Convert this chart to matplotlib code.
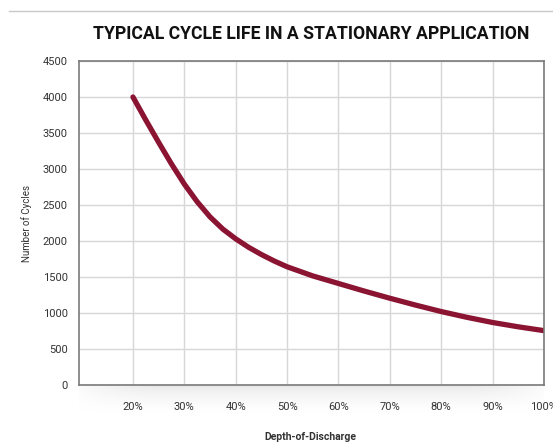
import numpy as np
import matplotlib
matplotlib.use("Agg")
import matplotlib.pyplot as plt
from matplotlib.lines import Line2D

# Data
depth_of_discharge = [0.200, 0.225, 0.250, 0.275, 0.300, 0.325, 0.350, 0.375,
                      0.400, 0.425, 0.450, 0.475, 0.500, 0.550, 0.600, 0.650,
                      0.700, 0.750, 0.800, 0.850, 0.900, 0.950, 1.000]
number_of_cycles = [4000, 3680, 3370, 3070, 2790, 2545, 2335, 2165,
                    2030, 1913, 1812, 1722, 1642, 1515, 1410, 1305,
                    1205, 1110, 1020, 940, 868, 808, 755]
x_ticks = [0.2, 0.3, 0.4, 0.5, 0.6, 0.7, 0.8, 0.9, 1.0]
x_tick_labels = ["20%", "30%", "40%", "50%", "60%", "70%", "80%", "90%", "100%"]
y_ticks = [0, 500, 1000, 1500, 2000, 2500, 3000, 3500, 4000, 4500]

narrow = 'Roboto'
plt.rcParams['font.family'] = [narrow, 'DejaVu Sans']

fig = plt.figure(figsize=(5.53, 4.44), dpi=100)
ax = fig.add_axes([79/553, 1-385/444, (544-79)/553, (385-61)/444])

# Shadow below the x-axis
sh = fig.add_axes([79/553, 1-415/444, (544-79)/553, 30/444])
grad = np.linspace(1, 0, 60)[:, None] ** 1.6
xs = np.linspace(-1, 1, 200)[None, :]
horiz = np.clip(1.25 - np.abs(xs) ** 4, 0, 1)
sh.imshow(grad * horiz * 0.18, cmap='Greys', vmin=0, vmax=1, aspect='auto',
          extent=[0, 1, 0, 1], interpolation='bilinear')
sh.set_axis_off()
sh.set_zorder(-1)

ax.plot(depth_of_discharge, number_of_cycles, color='#8a1432', lw=3.8,
        solid_capstyle='round', solid_joinstyle='round', zorder=3)

ax.set_xlim(0.095, 1.0)
ax.set_ylim(0, 4500)
ax.set_xticks(x_ticks)
ax.set_xticklabels(x_tick_labels)
ax.set_yticks(y_ticks)
ax.grid(True, color='#d9d6da', lw=1.0)
ax.set_axisbelow(True)
ax.tick_params(length=0, labelsize=8, colors='#333333')
ax.tick_params(axis='x', pad=12)
ax.tick_params(axis='y', pad=8)
for s in ax.spines.values():
    s.set_color('#7a7a7a')
    s.set_linewidth(1.2)
    s.set_zorder(4)
ax.patch.set_alpha(0)

ax.set_ylabel("Number of Cycles", fontsize=7, color='#333333')
ax.yaxis.set_label_coords(-0.1, 0.5)
fig.text(310/553, 1-437/444, "Depth-of-Discharge", ha='center', va='center',
         fontsize=7.5, color='#333333', fontweight='bold')

title = fig.text(311/553, 1-34/444, "TYPICAL CYCLE LIFE IN A STATIONARY APPLICATION",
                 ha='center', va='center', fontsize=16, fontweight='bold',
                 color='#111111')
# fit title to the reference width (~438 px)
fig.canvas.draw()
w = title.get_window_extent(fig.canvas.get_renderer()).width
if w > 438:
    title.set_fontsize(16 * 438 / w)

# thin rule at top
fig.add_artist(Line2D([9/553, 1.0], [1-11/444, 1-11/444], color='#c8c8c8', lw=1,
                      transform=fig.transFigure))

fig.savefig("out.png", dpi=100)
